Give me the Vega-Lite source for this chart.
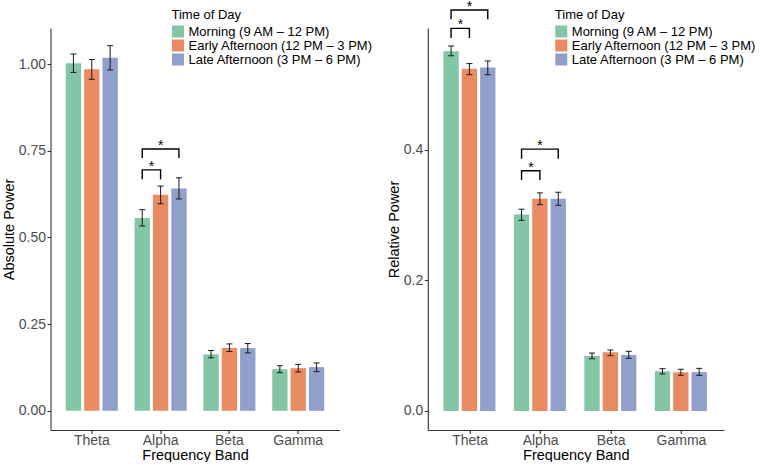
{
  "$schema": "https://vega.github.io/schema/vega-lite/v6.json",
  "background": "white",
  "padding": {"left": 1.5, "top": 0, "right": 0, "bottom": 0},
  "spacing": 88.3,
  "bounds": "flush",
  "config": {
    "font": "Liberation Sans",
    "view": {"stroke": null},
    "axis": {
      "grid": false,
      "domainColor": "#333333",
      "domainWidth": 1.1,
      "tickColor": "#333333",
      "tickSize": 3.5,
      "tickWidth": 1.1,
      "labelColor": "#4d4d4d",
      "labelFont": "Liberation Sans",
      "labelFontSize": 14,
      "titleFont": "Liberation Sans",
      "titleFontSize": 14.5,
      "titleFontWeight": "normal",
      "titleColor": "#000000"
    },
    "legend": {
      "titleFont": "Liberation Sans",
      "titleFontSize": 13,
      "titleFontWeight": "normal",
      "titleColor": "#000000",
      "labelFont": "Liberation Sans",
      "labelFontSize": 13,
      "labelColor": "#000000",
      "labelLimit": 400,
      "symbolType": "square",
      "symbolSize": 144,
      "symbolStrokeWidth": 0,
      "symbolOpacity": 1,
      "rowPadding": -2.5,
      "titlePadding": 3,
      "labelOffset": 4,
      "padding": 0
    }
  },
  "datasets": {
    "bars": [
      {"panel": "abs", "band": "Theta", "time": "Morning (9 AM – 12 PM)", "mean": 1.002, "lo": 0.976, "hi": 1.029},
      {"panel": "abs", "band": "Theta", "time": "Early Afternoon (12 PM – 3 PM)", "mean": 0.985, "lo": 0.956, "hi": 1.013},
      {"panel": "abs", "band": "Theta", "time": "Late Afternoon (3 PM – 6 PM)", "mean": 1.018, "lo": 0.983, "hi": 1.053},
      {"panel": "abs", "band": "Alpha", "time": "Morning (9 AM – 12 PM)", "mean": 0.556, "lo": 0.533, "hi": 0.580},
      {"panel": "abs", "band": "Alpha", "time": "Early Afternoon (12 PM – 3 PM)", "mean": 0.623, "lo": 0.597, "hi": 0.648},
      {"panel": "abs", "band": "Alpha", "time": "Late Afternoon (3 PM – 6 PM)", "mean": 0.641, "lo": 0.611, "hi": 0.672},
      {"panel": "abs", "band": "Beta", "time": "Morning (9 AM – 12 PM)", "mean": 0.163, "lo": 0.153, "hi": 0.174},
      {"panel": "abs", "band": "Beta", "time": "Early Afternoon (12 PM – 3 PM)", "mean": 0.181, "lo": 0.171, "hi": 0.193},
      {"panel": "abs", "band": "Beta", "time": "Late Afternoon (3 PM – 6 PM)", "mean": 0.181, "lo": 0.167, "hi": 0.194},
      {"panel": "abs", "band": "Gamma", "time": "Morning (9 AM – 12 PM)", "mean": 0.120, "lo": 0.110, "hi": 0.130},
      {"panel": "abs", "band": "Gamma", "time": "Early Afternoon (12 PM – 3 PM)", "mean": 0.123, "lo": 0.112, "hi": 0.134},
      {"panel": "abs", "band": "Gamma", "time": "Late Afternoon (3 PM – 6 PM)", "mean": 0.126, "lo": 0.113, "hi": 0.138},
      {"panel": "rel", "band": "Theta", "time": "Morning (9 AM – 12 PM)", "mean": 0.551, "lo": 0.544, "hi": 0.559},
      {"panel": "rel", "band": "Theta", "time": "Early Afternoon (12 PM – 3 PM)", "mean": 0.524, "lo": 0.515, "hi": 0.532},
      {"panel": "rel", "band": "Theta", "time": "Late Afternoon (3 PM – 6 PM)", "mean": 0.526, "lo": 0.515, "hi": 0.536},
      {"panel": "rel", "band": "Alpha", "time": "Morning (9 AM – 12 PM)", "mean": 0.301, "lo": 0.292, "hi": 0.309},
      {"panel": "rel", "band": "Alpha", "time": "Early Afternoon (12 PM – 3 PM)", "mean": 0.325, "lo": 0.316, "hi": 0.334},
      {"panel": "rel", "band": "Alpha", "time": "Late Afternoon (3 PM – 6 PM)", "mean": 0.325, "lo": 0.315, "hi": 0.335},
      {"panel": "rel", "band": "Beta", "time": "Morning (9 AM – 12 PM)", "mean": 0.0842, "lo": 0.080, "hi": 0.0888},
      {"panel": "rel", "band": "Beta", "time": "Early Afternoon (12 PM – 3 PM)", "mean": 0.0899, "lo": 0.0847, "hi": 0.0934},
      {"panel": "rel", "band": "Beta", "time": "Late Afternoon (3 PM – 6 PM)", "mean": 0.0858, "lo": 0.0807, "hi": 0.0914},
      {"panel": "rel", "band": "Gamma", "time": "Morning (9 AM – 12 PM)", "mean": 0.0608, "lo": 0.0567, "hi": 0.0648},
      {"panel": "rel", "band": "Gamma", "time": "Early Afternoon (12 PM – 3 PM)", "mean": 0.0592, "lo": 0.0546, "hi": 0.0638},
      {"panel": "rel", "band": "Gamma", "time": "Late Afternoon (3 PM – 6 PM)", "mean": 0.0595, "lo": 0.0546, "hi": 0.0653}
    ],
    "brackets": [
      {"panel": "abs", "band": "Alpha", "id": "a1", "seq": 1, "time": "Morning (9 AM – 12 PM)", "y": 0.668},
      {"panel": "abs", "band": "Alpha", "id": "a1", "seq": 2, "time": "Morning (9 AM – 12 PM)", "y": 0.695},
      {"panel": "abs", "band": "Alpha", "id": "a1", "seq": 3, "time": "Early Afternoon (12 PM – 3 PM)", "y": 0.695},
      {"panel": "abs", "band": "Alpha", "id": "a1", "seq": 4, "time": "Early Afternoon (12 PM – 3 PM)", "y": 0.668},
      {"panel": "abs", "band": "Alpha", "id": "a2", "seq": 1, "time": "Morning (9 AM – 12 PM)", "y": 0.729},
      {"panel": "abs", "band": "Alpha", "id": "a2", "seq": 2, "time": "Morning (9 AM – 12 PM)", "y": 0.755},
      {"panel": "abs", "band": "Alpha", "id": "a2", "seq": 3, "time": "Late Afternoon (3 PM – 6 PM)", "y": 0.755},
      {"panel": "abs", "band": "Alpha", "id": "a2", "seq": 4, "time": "Late Afternoon (3 PM – 6 PM)", "y": 0.729},
      {"panel": "rel", "band": "Theta", "id": "r1", "seq": 1, "time": "Morning (9 AM – 12 PM)", "y": 0.571},
      {"panel": "rel", "band": "Theta", "id": "r1", "seq": 2, "time": "Morning (9 AM – 12 PM)", "y": 0.586},
      {"panel": "rel", "band": "Theta", "id": "r1", "seq": 3, "time": "Early Afternoon (12 PM – 3 PM)", "y": 0.586},
      {"panel": "rel", "band": "Theta", "id": "r1", "seq": 4, "time": "Early Afternoon (12 PM – 3 PM)", "y": 0.571},
      {"panel": "rel", "band": "Theta", "id": "r2", "seq": 1, "time": "Morning (9 AM – 12 PM)", "y": 0.600},
      {"panel": "rel", "band": "Theta", "id": "r2", "seq": 2, "time": "Morning (9 AM – 12 PM)", "y": 0.614},
      {"panel": "rel", "band": "Theta", "id": "r2", "seq": 3, "time": "Late Afternoon (3 PM – 6 PM)", "y": 0.614},
      {"panel": "rel", "band": "Theta", "id": "r2", "seq": 4, "time": "Late Afternoon (3 PM – 6 PM)", "y": 0.600},
      {"panel": "rel", "band": "Alpha", "id": "r3", "seq": 1, "time": "Morning (9 AM – 12 PM)", "y": 0.3537},
      {"panel": "rel", "band": "Alpha", "id": "r3", "seq": 2, "time": "Morning (9 AM – 12 PM)", "y": 0.368},
      {"panel": "rel", "band": "Alpha", "id": "r3", "seq": 3, "time": "Early Afternoon (12 PM – 3 PM)", "y": 0.368},
      {"panel": "rel", "band": "Alpha", "id": "r3", "seq": 4, "time": "Early Afternoon (12 PM – 3 PM)", "y": 0.3537},
      {"panel": "rel", "band": "Alpha", "id": "r4", "seq": 1, "time": "Morning (9 AM – 12 PM)", "y": 0.3864},
      {"panel": "rel", "band": "Alpha", "id": "r4", "seq": 2, "time": "Morning (9 AM – 12 PM)", "y": 0.401},
      {"panel": "rel", "band": "Alpha", "id": "r4", "seq": 3, "time": "Late Afternoon (3 PM – 6 PM)", "y": 0.401},
      {"panel": "rel", "band": "Alpha", "id": "r4", "seq": 4, "time": "Late Afternoon (3 PM – 6 PM)", "y": 0.3864}
    ],
    "stars": [
      {"panel": "abs", "band": "Alpha", "pair": "ME", "time": "Morning (9 AM – 12 PM)", "top": 0.695, "label": "*"},
      {"panel": "abs", "band": "Alpha", "pair": "ML", "time": "Early Afternoon (12 PM – 3 PM)", "top": 0.755, "label": "*"},
      {"panel": "rel", "band": "Theta", "pair": "ME", "time": "Morning (9 AM – 12 PM)", "top": 0.586, "label": "*"},
      {"panel": "rel", "band": "Theta", "pair": "ML", "time": "Early Afternoon (12 PM – 3 PM)", "top": 0.614, "label": "*"},
      {"panel": "rel", "band": "Alpha", "pair": "ME", "time": "Morning (9 AM – 12 PM)", "top": 0.368, "label": "*"},
      {"panel": "rel", "band": "Alpha", "pair": "ML", "time": "Early Afternoon (12 PM – 3 PM)", "top": 0.401, "label": "*"}
    ]
  },
  "resolve": {"scale": {"color": "independent"}, "legend": {"color": "independent"}},
  "hconcat": [
    {
      "width": 289,
      "height": 402,
      "encoding": {
        "x": {"field": "band", "type": "nominal", "sort": ["Theta", "Alpha", "Beta", "Gamma"],
              "scale": {"domain": ["Theta", "Alpha", "Beta", "Gamma"], "paddingInner": 0.2, "paddingOuter": 0.2},
              "axis": {"title": "Frequency Band", "labelAngle": 0, "labelFontSize": 14, "labelPadding": -0.5, "titleFontSize": 14.5, "titleBaseline": "alphabetic", "titleY": 29}},
        "xOffset": {"field": "time", "type": "nominal",
              "scale": {"domain": ["Morning (9 AM – 12 PM)", "Early Afternoon (12 PM – 3 PM)", "Late Afternoon (3 PM – 6 PM)"], "paddingInner": 0.165, "paddingOuter": 0.0825}}
      },
      "layer": [
        {
          "data": {"name": "bars"},
          "transform": [{"filter": "datum.panel === 'abs'"}],
          "mark": {"type": "bar"},
          "encoding": {
            "y": {"field": "mean", "type": "quantitative",
                  "scale": {"domain": [-0.0553, 1.104], "nice": false, "zero": false},
                  "axis": {"title": "Absolute Power", "values": [0, 0.25, 0.5, 0.75, 1.0], "format": ".2f", "labelFontSize": 14, "labelPadding": 1.5, "titleFontSize": 14.5, "titleBaseline": "alphabetic", "titleX": -37}},
            "color": {"field": "time", "type": "nominal",
                      "scale": {"domain": ["Morning (9 AM – 12 PM)", "Early Afternoon (12 PM – 3 PM)", "Late Afternoon (3 PM – 6 PM)"], "range": ["#82c6a6", "#ea8b62", "#909fcb"]},
                      "legend": {"title": "Time of Day", "orient": "none", "legendX": 121, "legendY": -19}}
          }
        },
        {
          "data": {"name": "bars"},
          "transform": [{"filter": "datum.panel === 'abs'"}],
          "mark": {"type": "rule", "color": "#1a1a1a", "strokeWidth": 1},
          "encoding": {"y": {"field": "lo", "type": "quantitative"}, "y2": {"field": "hi"}}
        },
        {
          "data": {"name": "bars"},
          "transform": [{"filter": "datum.panel === 'abs'"}],
          "mark": {"type": "tick", "color": "#1a1a1a", "thickness": 1, "size": 6, "opacity": 1},
          "encoding": {"y": {"field": "lo", "type": "quantitative"}}
        },
        {
          "data": {"name": "bars"},
          "transform": [{"filter": "datum.panel === 'abs'"}],
          "mark": {"type": "tick", "color": "#1a1a1a", "thickness": 1, "size": 6, "opacity": 1},
          "encoding": {"y": {"field": "hi", "type": "quantitative"}}
        },
        {
          "data": {"name": "brackets"},
          "transform": [{"filter": "datum.panel === 'abs'"}],
          "mark": {"type": "line", "color": "#000000", "strokeWidth": 1.4, "interpolate": "linear"},
          "encoding": {"y": {"field": "y", "type": "quantitative"}, "detail": {"field": "id"}, "order": {"field": "seq"}}
        },
        {
          "data": {"name": "stars"},
          "transform": [{"filter": "datum.panel === 'abs' && datum.pair === 'ME'"}],
          "mark": {"type": "text", "fontSize": 14, "baseline": "alphabetic", "dx": 9.2, "dy": 1, "color": "#000000"},
          "encoding": {"y": {"field": "top", "type": "quantitative"}, "text": {"field": "label"}}
        },
        {
          "data": {"name": "stars"},
          "transform": [{"filter": "datum.panel === 'abs' && datum.pair === 'ML'"}],
          "mark": {"type": "text", "fontSize": 14, "baseline": "alphabetic", "dy": 1, "color": "#000000"},
          "encoding": {"y": {"field": "top", "type": "quantitative"}, "text": {"field": "label"}}
        }
      ]
    },
    {
      "width": 296,
      "height": 402,
      "encoding": {
        "x": {"field": "band", "type": "nominal", "sort": ["Theta", "Alpha", "Beta", "Gamma"],
              "scale": {"domain": ["Theta", "Alpha", "Beta", "Gamma"], "paddingInner": 0.2, "paddingOuter": 0.2},
              "axis": {"title": "Frequency Band", "labelAngle": 0, "labelFontSize": 14, "labelPadding": -0.5, "titleFontSize": 14.5, "titleBaseline": "alphabetic", "titleY": 29}},
        "xOffset": {"field": "time", "type": "nominal",
              "scale": {"domain": ["Morning (9 AM – 12 PM)", "Early Afternoon (12 PM – 3 PM)", "Late Afternoon (3 PM – 6 PM)"], "paddingInner": 0.165, "paddingOuter": 0.0825}}
      },
      "layer": [
        {
          "data": {"name": "bars"},
          "transform": [{"filter": "datum.panel === 'rel'"}],
          "mark": {"type": "bar"},
          "encoding": {
            "y": {"field": "mean", "type": "quantitative",
                  "scale": {"domain": [-0.0291, 0.5865], "nice": false, "zero": false},
                  "axis": {"title": "Relative Power", "values": [0, 0.2, 0.4], "format": ".1f", "labelFontSize": 14, "labelPadding": 1.5, "titleFontSize": 14.5, "titleBaseline": "alphabetic", "titleX": -29}},
            "color": {"field": "time", "type": "nominal",
                      "scale": {"domain": ["Morning (9 AM – 12 PM)", "Early Afternoon (12 PM – 3 PM)", "Late Afternoon (3 PM – 6 PM)"], "range": ["#82c6a6", "#ea8b62", "#909fcb"]},
                      "legend": {"title": "Time of Day", "orient": "none", "legendX": 127, "legendY": -19}}
          }
        },
        {
          "data": {"name": "bars"},
          "transform": [{"filter": "datum.panel === 'rel'"}],
          "mark": {"type": "rule", "color": "#1a1a1a", "strokeWidth": 1},
          "encoding": {"y": {"field": "lo", "type": "quantitative"}, "y2": {"field": "hi"}}
        },
        {
          "data": {"name": "bars"},
          "transform": [{"filter": "datum.panel === 'rel'"}],
          "mark": {"type": "tick", "color": "#1a1a1a", "thickness": 1, "size": 6, "opacity": 1},
          "encoding": {"y": {"field": "lo", "type": "quantitative"}}
        },
        {
          "data": {"name": "bars"},
          "transform": [{"filter": "datum.panel === 'rel'"}],
          "mark": {"type": "tick", "color": "#1a1a1a", "thickness": 1, "size": 6, "opacity": 1},
          "encoding": {"y": {"field": "hi", "type": "quantitative"}}
        },
        {
          "data": {"name": "brackets"},
          "transform": [{"filter": "datum.panel === 'rel'"}],
          "mark": {"type": "line", "color": "#000000", "strokeWidth": 1.4, "interpolate": "linear"},
          "encoding": {"y": {"field": "y", "type": "quantitative"}, "detail": {"field": "id"}, "order": {"field": "seq"}}
        },
        {
          "data": {"name": "stars"},
          "transform": [{"filter": "datum.panel === 'rel' && datum.pair === 'ME'"}],
          "mark": {"type": "text", "fontSize": 14, "baseline": "alphabetic", "dx": 9.4, "dy": 1, "color": "#000000"},
          "encoding": {"y": {"field": "top", "type": "quantitative"}, "text": {"field": "label"}}
        },
        {
          "data": {"name": "stars"},
          "transform": [{"filter": "datum.panel === 'rel' && datum.pair === 'ML'"}],
          "mark": {"type": "text", "fontSize": 14, "baseline": "alphabetic", "dy": 1, "color": "#000000"},
          "encoding": {"y": {"field": "top", "type": "quantitative"}, "text": {"field": "label"}}
        }
      ]
    }
  ]
}
